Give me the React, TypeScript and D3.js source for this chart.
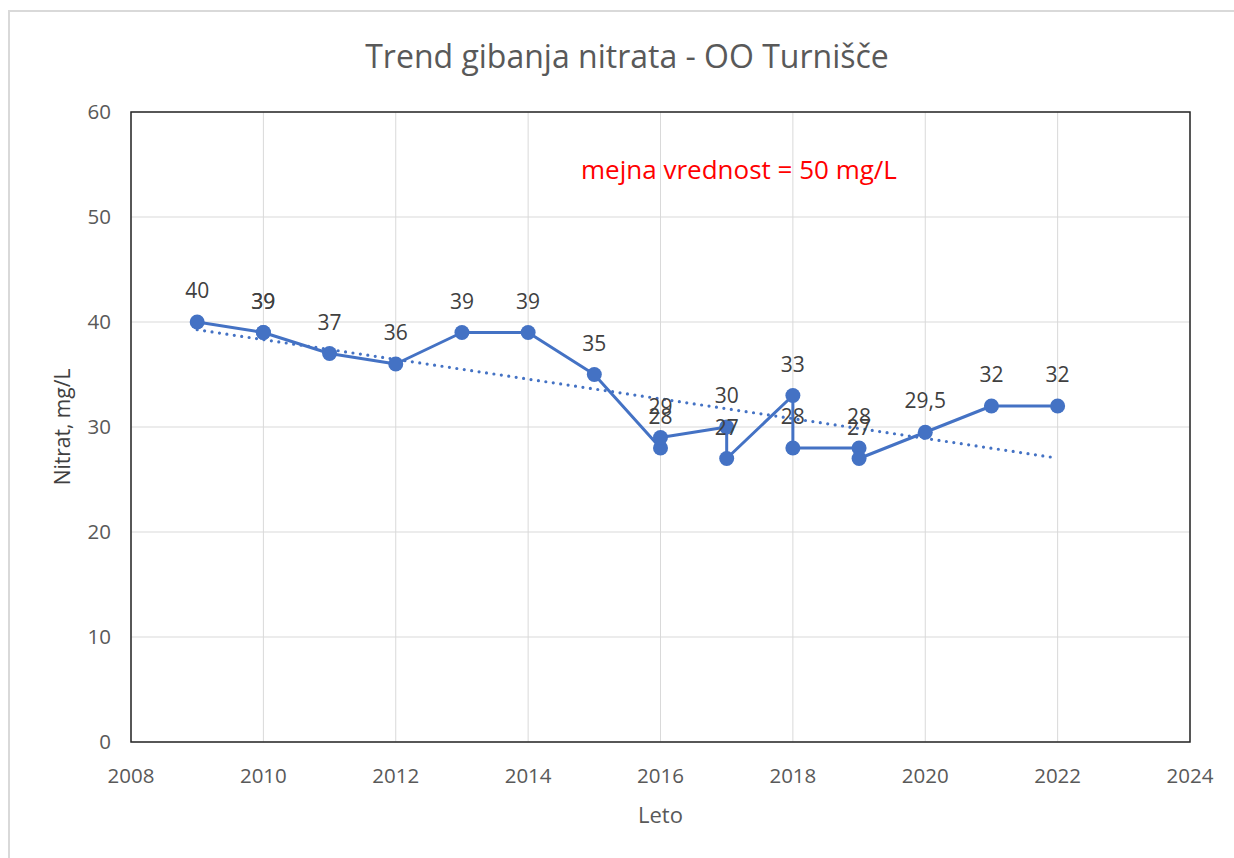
import * as d3 from "d3";
import React, { useEffect, useRef } from "react";

// measured points, in plot order (some years have two samples)
const years = [2009, 2010, 2010, 2011, 2012, 2013, 2014, 2015, 2016, 2016, 2017, 2017, 2018, 2018, 2019, 2019, 2020, 2021, 2022];
const nitrate = [40, 39, 39, 37, 36, 39, 39, 35, 28, 29, 30, 27, 33, 28, 28, 27, 29.5, 32, 32];
const xTicks = [2008, 2010, 2012, 2014, 2016, 2018, 2020, 2022, 2024];
const yTicks = [0, 10, 20, 30, 40, 50, 60];

const W = 1234;
const H = 858;
const margin = { top: 112, right: 44, bottom: 116, left: 131 };
const blue = "#4472C4";
const grey = "#595959";
const font = "'Open Sans', 'Noto Sans', sans-serif";

const App = () => {
    const svgRef = useRef<SVGSVGElement | null>(null);

    useEffect(() => {
        const svg = d3.select(svgRef.current);
        svg.selectAll("*").remove();

        const x = d3.scaleLinear().domain([2008, 2024]).range([margin.left, W - margin.right]);
        const y = d3.scaleLinear().domain([0, 60]).range([H - margin.bottom, margin.top]);

        // outer chart frame (only top/left visible)
        svg.append("rect")
            .attr("x", 9).attr("y", 11)
            .attr("width", W).attr("height", H)
            .attr("fill", "white")
            .attr("stroke", "#d9d9d9")
            .attr("stroke-width", 2);

        // gridlines
        svg.append("g").selectAll("line.v")
            .data(xTicks)
            .enter().append("line")
            .attr("x1", d => x(d)).attr("x2", d => x(d))
            .attr("y1", y(60)).attr("y2", y(0))
            .attr("stroke", "#d9d9d9").attr("stroke-width", 1);
        svg.append("g").selectAll("line.h")
            .data(yTicks)
            .enter().append("line")
            .attr("x1", x(2008)).attr("x2", x(2024))
            .attr("y1", d => y(d)).attr("y2", d => y(d))
            .attr("stroke", "#d9d9d9").attr("stroke-width", 1);

        // plot area border
        svg.append("rect")
            .attr("x", x(2008)).attr("y", y(60))
            .attr("width", x(2024) - x(2008)).attr("height", y(0) - y(60))
            .attr("fill", "none")
            .attr("stroke", "#262626")
            .attr("stroke-width", 1.5);

        // tick labels
        svg.append("g").selectAll("text")
            .data(xTicks)
            .enter().append("text")
            .attr("x", d => x(d)).attr("y", y(0) + 41)
            .attr("text-anchor", "middle")
            .attr("font-family", font).attr("font-size", 20.5)
            .attr("fill", grey)
            .text(d => d);
        svg.append("g").selectAll("text")
            .data(yTicks)
            .enter().append("text")
            .attr("x", x(2008) - 20).attr("y", d => y(d) + 7)
            .attr("text-anchor", "end")
            .attr("font-family", font).attr("font-size", 20.5)
            .attr("fill", grey)
            .text(d => d);

        // linear trend (least squares)
        const mx = d3.mean(years) as number;
        const my = d3.mean(nitrate) as number;
        const slope = d3.sum(years, (v, i) => (v - mx) * (nitrate[i] - my)) / d3.sum(years, v => (v - mx) ** 2);
        const icpt = my - slope * mx;
        const x0 = d3.min(years) as number;
        const x1 = d3.max(years) as number;
        svg.append("line")
            .attr("x1", x(x0)).attr("y1", y(icpt + slope * x0))
            .attr("x2", x(x1)).attr("y2", y(icpt + slope * x1))
            .attr("stroke", blue)
            .attr("stroke-width", 3.2)
            .attr("stroke-dasharray", "0 7.5")
            .attr("stroke-linecap", "round");

        // series
        const pts = years.map((yr, i) => [yr, nitrate[i]] as [number, number]);
        const line = d3.line<[number, number]>().x(d => x(d[0])).y(d => y(d[1]));
        svg.append("path")
            .attr("d", line(pts))
            .attr("fill", "none")
            .attr("stroke", blue)
            .attr("stroke-width", 3)
            .attr("stroke-linejoin", "round");

        svg.append("g").selectAll("circle")
            .data(pts)
            .enter().append("circle")
            .attr("cx", d => x(d[0])).attr("cy", d => y(d[1]))
            .attr("r", 7.5)
            .attr("fill", blue);

        svg.append("g").selectAll("text")
            .data(pts)
            .enter().append("text")
            .attr("x", d => x(d[0])).attr("y", d => y(d[1]) - 24)
            .attr("text-anchor", "middle")
            .attr("font-family", font).attr("font-size", 21)
            .attr("fill", "#404040")
            .text(d => String(d[1]).replace(".", ","));

        // titles
        svg.append("text")
            .attr("x", 627).attr("y", 68)
            .attr("text-anchor", "middle")
            .attr("font-family", font).attr("font-size", 32)
            .attr("fill", grey)
            .text("Trend gibanja nitrata - OO Turnišče");

        svg.append("text")
            .attr("x", x(2016)).attr("y", 823)
            .attr("text-anchor", "middle")
            .attr("font-family", font).attr("font-size", 22)
            .attr("fill", grey)
            .text("Leto");

        svg.append("text")
            .attr("transform", `translate(70,${(y(0) + y(60)) / 2}) rotate(-90)`)
            .attr("text-anchor", "middle")
            .attr("font-family", font).attr("font-size", 21)
            .attr("fill", "#404040")
            .text("Nitrat, mg/L");

        svg.append("text")
            .attr("x", 739).attr("y", 179)
            .attr("text-anchor", "middle")
            .attr("font-family", font).attr("font-size", 26)
            .attr("fill", "#ff0000")
            .text("mejna vrednost = 50 mg/L");
    }, []);

    return (
        <div style={{ position: "absolute", left: 0, top: 0, width: W, height: H, background: "white" }}>
            <svg ref={svgRef} width={W} height={H} style={{ display: "block" }}></svg>
        </div>
    );
};

export default App;
